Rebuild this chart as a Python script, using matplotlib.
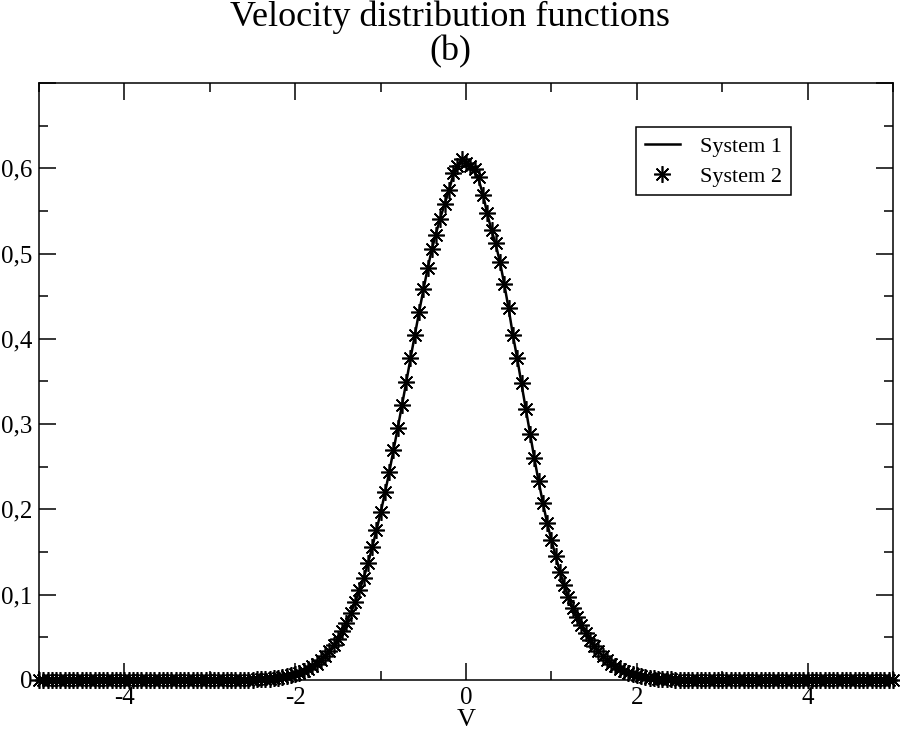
import matplotlib
matplotlib.use('Agg')
import matplotlib.pyplot as plt
from matplotlib.ticker import MultipleLocator, FuncFormatter
import numpy as np

# sampling grid of the velocity axis (step 0.05, -5 .. 5)
v = np.round(np.arange(-5.0, 5.0 + 1e-9, 0.05), 2)

# values, from v = -2.50 to v = 2.50 (outside: zero)
tail_left = [0.0] * 50
tail_right = [0.0] * 50

sys2_core = [
    0.0005, 0.0007, 0.0009, 0.0012, 0.0016, 0.0021, 0.0026, 0.0034, 0.0043, 0.0054,
    0.0068, 0.0085, 0.0105, 0.013, 0.016, 0.019, 0.024, 0.028, 0.034, 0.041,
    0.048, 0.057, 0.067, 0.078, 0.091, 0.105, 0.120, 0.137, 0.156, 0.176,
    0.197, 0.220, 0.244, 0.270, 0.296, 0.323, 0.350, 0.378, 0.405, 0.432,
    0.458, 0.483, 0.505, 0.522, 0.540, 0.558, 0.574, 0.594, 0.603, 0.611,
    0.606,
    0.603, 0.599, 0.590, 0.569, 0.547, 0.528, 0.512, 0.490, 0.464, 0.436,
    0.405, 0.378, 0.348, 0.318, 0.289, 0.260, 0.233, 0.208, 0.184, 0.164,
    0.145, 0.127, 0.111, 0.097, 0.085, 0.074, 0.064, 0.055, 0.047, 0.040,
    0.034, 0.028, 0.024, 0.019, 0.016, 0.013, 0.0105, 0.0085, 0.0068, 0.0054,
    0.0043, 0.0034, 0.0026, 0.0021, 0.0016, 0.0012, 0.0009, 0.0007, 0.0005, 0.0003,
]

sys1_core = [
    0.0005, 0.0007, 0.0009, 0.0012, 0.0016, 0.0021, 0.0026, 0.0034, 0.0043, 0.0054,
    0.0066, 0.0083, 0.0103, 0.013, 0.016, 0.020, 0.024, 0.029, 0.034, 0.041,
    0.048, 0.057, 0.067, 0.078, 0.091, 0.104, 0.119, 0.136, 0.155, 0.175,
    0.196, 0.219, 0.243, 0.269, 0.295, 0.322, 0.349, 0.377, 0.404, 0.431,
    0.457, 0.482, 0.505, 0.524, 0.542, 0.558, 0.574, 0.592, 0.602, 0.612,
    0.606,
    0.600, 0.595, 0.586, 0.569, 0.546, 0.527, 0.510, 0.489, 0.463, 0.435,
    0.404, 0.377, 0.347, 0.318, 0.289, 0.260, 0.233, 0.208, 0.184, 0.164,
    0.145, 0.127, 0.111, 0.097, 0.085, 0.074, 0.064, 0.055, 0.047, 0.040,
    0.034, 0.028, 0.024, 0.019, 0.016, 0.013, 0.0105, 0.0085, 0.0068, 0.0054,
    0.0043, 0.0034, 0.0026, 0.0021, 0.0016, 0.0012, 0.0009, 0.0007, 0.0005, 0.0003,
]

sys1 = np.array(tail_left + sys1_core + tail_right)
sys2 = np.array(tail_left + sys2_core + tail_right)

title = "Velocity distribution functions"
subtitle = "(b)"
labels = ["System 1", "System 2"]

plt.rcParams['font.family'] = ['Liberation Serif', 'DejaVu Serif']

fig = plt.figure(figsize=(9, 7.34), dpi=100)
ax = fig.add_axes([39 / 900, 1 - 680 / 734, 854 / 900, 597 / 734])

ax.plot(v, sys1, color='black', lw=1.8, label=labels[0], zorder=3)
ax.plot(v, sys2, linestyle='none', marker=(8, 2, 0), markersize=12,
        markeredgewidth=1.2, color='black', label=labels[1], zorder=4,
        clip_on=False)

ax.set_xlim(-5, 5)
ax.set_ylim(0, 0.7)
ax.xaxis.set_major_locator(MultipleLocator(2))
ax.xaxis.set_minor_locator(MultipleLocator(1))
ax.yaxis.set_major_locator(MultipleLocator(0.1))
ax.yaxis.set_minor_locator(MultipleLocator(0.05))


def comma_fmt(val, pos):
    if abs(val) < 1e-9:
        return "0"
    if val > 0.65:
        return ""
    return ("%g" % round(val, 2)).replace(".", ",")


ax.xaxis.set_major_formatter(FuncFormatter(lambda val, pos: "%d" % round(val)))
ax.yaxis.set_major_formatter(FuncFormatter(comma_fmt))

ax.tick_params(which='both', direction='in', top=True, right=True,
               labelsize=18, width=1.1)
ax.tick_params(which='major', length=12)
ax.tick_params(axis='y', which='major', pad=5)
ax.tick_params(axis='x', which='major', pad=5)
ax.tick_params(which='minor', length=6.5)
for sp in ax.spines.values():
    sp.set_linewidth(1.1)

ax.set_xlabel("V", fontsize=19, labelpad=0)
fig.text(0.5, 1 - 17 / 734, title, fontsize=26, ha='center', va='center')
fig.text(0.5, 1 - 52 / 734, subtitle, fontsize=26, ha='center', va='center')

leg = ax.legend(loc='upper right', bbox_to_anchor=(0.8806, 0.926),
                fontsize=16, frameon=True, fancybox=False, framealpha=1,
                edgecolor='black', handlelength=1.6, borderpad=0.4,
                labelspacing=0.42, handletextpad=0.9, borderaxespad=0)
leg.get_frame().set_linewidth(1.1)

fig.savefig("out.png", dpi=100)
